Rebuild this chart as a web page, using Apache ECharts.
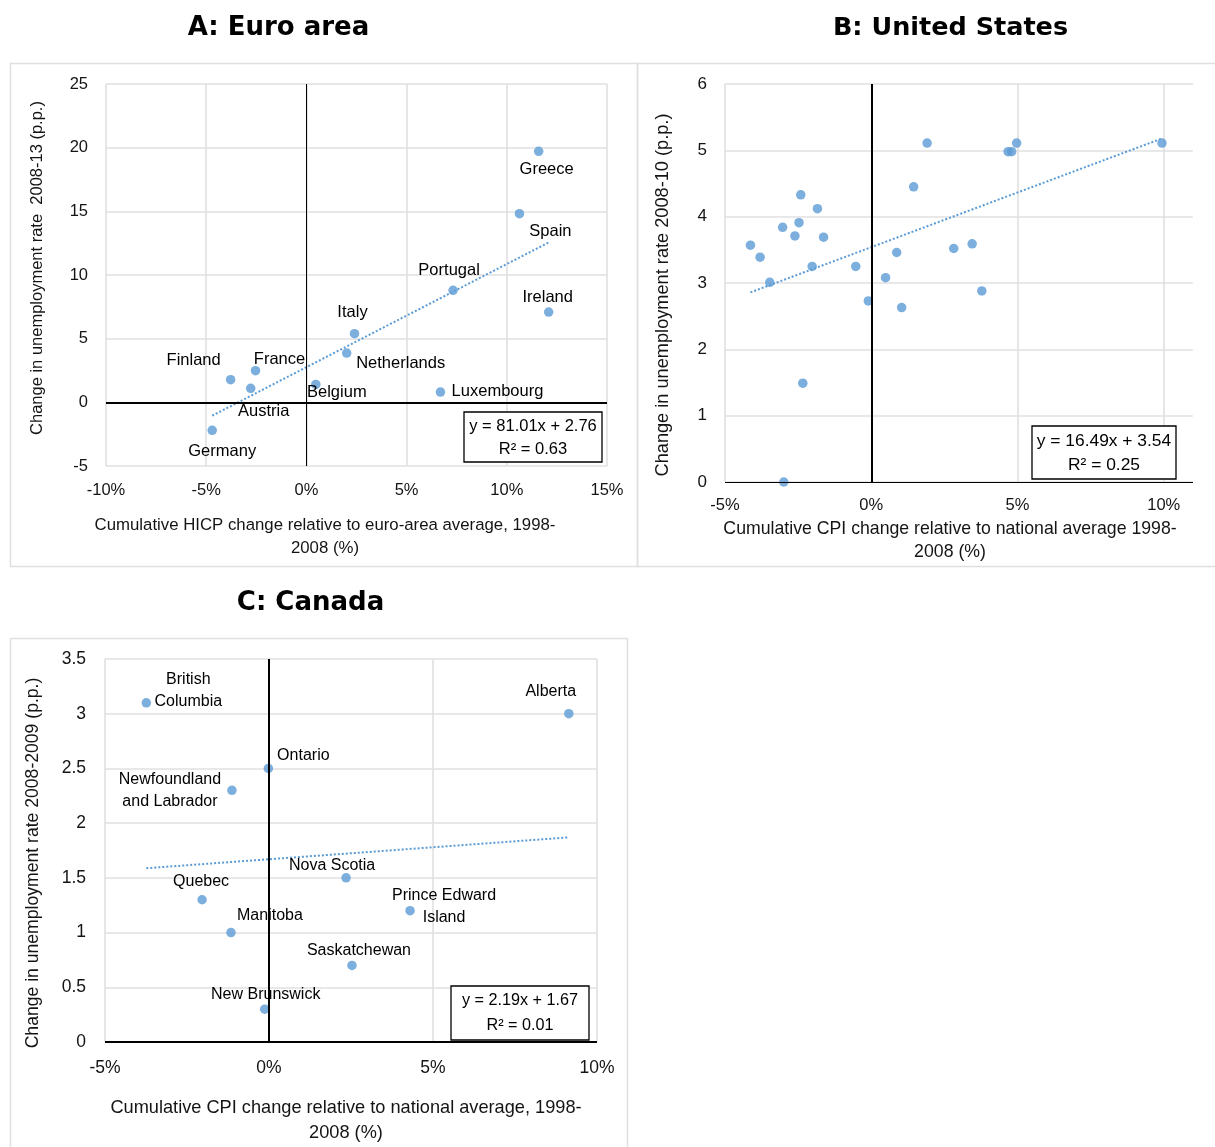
<!DOCTYPE html>
<html>
<head>
<meta charset="utf-8">
<script src="https://cdn.jsdelivr.net/npm/echarts@6/dist/echarts.min.js"></script>
<style>
html,body{margin:0;padding:0;background:#fff;}
#c{width:1215px;height:1147px;}
</style>
</head>
<body>
<div id="c"></div>
<script>
// ---------- Data ----------
const euroCountries = ['Greece','Spain','Portugal','Ireland','Italy','Netherlands','Belgium','Luxembourg','France','Finland','Austria','Germany'];
const euroX = [11.59, 10.63, 7.32, 12.09, 2.40, 2.01, 0.47, 6.69, -2.54, -3.78, -2.78, -4.70];
const euroY = [19.71, 14.82, 8.80, 7.09, 5.39, 3.87, 1.41, 0.81, 2.49, 1.78, 1.10, -2.20];
const euroTrend = [81.01, 2.76];
const euroR2 = 0.63;

const usX = [-4.13, -3.80, -3.47, -3.03, -2.61, -2.47, -2.41, -2.34, -2.02, -1.84, -1.63, -2.99, -0.53, -0.10, 0.49, 0.87, 1.04, 1.45, 1.91, 2.82, 3.45, 3.78, 4.68, 4.80, 4.97, 9.94];
const usY = [3.57, 3.39, 3.01, 3.84, 3.71, 3.91, 4.33, 1.49, 3.25, 4.12, 3.69, 0.00, 3.25, 2.73, 3.08, 3.46, 2.63, 4.45, 5.11, 3.52, 3.59, 2.88, 4.98, 4.98, 5.11, 5.11];
const usTrend = [16.49, 3.54];
const usR2 = 0.25;

const caProvinces = ['British\nColumbia','Alberta','Ontario','Newfoundland\nand Labrador','Nova Scotia','Quebec','Prince Edward\nIsland','Manitoba','Saskatchewan','New Brunswick'];
const caX = [-3.74, 9.14, -0.02, -1.13, 2.35, -2.04, 4.30, -1.16, 2.53, -0.13];
const caY = [3.10, 3.00, 2.50, 2.30, 1.50, 1.30, 1.20, 1.00, 0.70, 0.30];
const caTrend = [2.19, 1.67];
const caR2 = 0.01;

const titles = ['A: Euro area', 'B: United States', 'C: Canada'];
const xNames = ['Cumulative HICP change relative to euro-area average, 1998-\n2008 (%)',
                'Cumulative CPI change relative to national average 1998-\n2008 (%)',
                'Cumulative CPI change relative to national average, 1998-\n2008 (%)'];
const yNames = ['Change in unemployment rate  2008-13 (p.p.)',
                'Change in unemployment rate 2008-10 (p.p.)',
                'Change in unemployment rate 2008-2009 (p.p.)'];

// ---------- Label placement (style, not data) ----------
const euroLabelOffsets = [[8,18],[31,18],[-4,-20],[-1,-15],[-2,-21],[54,10],[21,8],[57,-1],[24,-11],[-37,-19],[13,23],[10,21]];
const caLabelOffsets = [[42,-12],[-18,-22],[35,-13],[-62,0],[-14,-12],[-1,-18],[34,-4],[39,-17],[7,-15],[1,-15]];

// ---------- Styling ----------
const FONT = 'Liberation Sans';
const TXT = '#141414';
const BLUE = '#5b9bd5';
const GRID = '#e0e0e0';

const chart = echarts.init(document.getElementById('c'), null, {renderer: 'canvas'});

function trendPts(xs, coef) {
  const lo = Math.min.apply(null, xs), hi = Math.max.apply(null, xs);
  return [[lo, coef[0] * lo / 100 + coef[1]], [hi, coef[0] * hi / 100 + coef[1]]];
}
function fmt2(v) { return v.toFixed(2); }
function eqText(coef, r2) { return 'y = ' + fmt2(coef[0]) + 'x + ' + fmt2(coef[1]) + '\nR\u00b2 = ' + fmt2(r2); }

function xAx(gi, min, max, fs, margin, showMax) {
  return {
    type: 'value', gridIndex: gi, min: min, max: max, interval: 5,
    axisLine: {show: false}, axisTick: {show: false},
    splitLine: {show: true, showMaxLine: showMax, lineStyle: {color: GRID, width: 1.6}},
    axisLabel: {formatter: v => (v % 5 === 0 ? v + '%' : ''), showMaxLabel: showMax,
                fontSize: fs, fontFamily: FONT, color: TXT, margin: margin}
  };
}
function yAx(gi, min, max, interval, fs, margin) {
  return {
    type: 'value', gridIndex: gi, min: min, max: max, interval: interval,
    axisLine: {show: false}, axisTick: {show: false},
    splitLine: {show: true, lineStyle: {color: GRID, width: 1.6}},
    axisLabel: {fontSize: fs, fontFamily: FONT, color: TXT, margin: margin}
  };
}
function zeroLines(vw, hw) {
  return {
    silent: true, symbol: ['none', 'none'], label: {show: false}, animation: false,
    lineStyle: {color: '#000', type: 'solid'},
    emphasis: {disabled: true},
    data: [{xAxis: 0, lineStyle: {width: vw, color: '#000', type: 'solid'}},
           {yAxis: 0, lineStyle: {width: hw, color: '#000', type: 'solid'}}]
  };
}
function trendSeries(i, xs, coef, vw, hw) {
  return {
    type: 'line', xAxisIndex: i, yAxisIndex: i, z: 2, symbol: 'none', silent: true,
    data: trendPts(xs, coef),
    lineStyle: {color: BLUE, width: 2, type: [2, 2]},
    markLine: zeroLines(vw, hw)
  };
}
function scatterSeries(i, names, xs, ys, offsets, fs) {
  return {
    type: 'scatter', xAxisIndex: i, yAxisIndex: i, z: 3, symbolSize: 9.5,
    itemStyle: {color: BLUE},
    data: xs.map((x, k) => {
      const d = {name: names ? names[k] : '', value: [x, ys[k]]};
      if (names) d.label = {offset: offsets[k]};
      return d;
    }),
    label: {show: !!names, position: 'inside', formatter: '{b}', fontSize: fs, fontFamily: FONT,
            color: '#000', opacity: 1, textBorderWidth: 0, textBorderColor: 'transparent', textShadowBlur: 0,
            lineHeight: 22, align: 'center', verticalAlign: 'middle'}
  };
}
function txt(x, y, text, fs, extra) {
  return Object.assign({type: 'text', x: x, y: y, silent: true,
    style: Object.assign({text: text, fontSize: fs, fontFamily: FONT, fill: TXT, align: 'center', verticalAlign: 'middle'}, (extra && extra.style) || {})},
    extra && extra.rotation ? {rotation: extra.rotation} : {});
}
function box(x, y, w, h) {
  return {type: 'rect', silent: true, shape: {x: x, y: y, width: w, height: h},
          style: {fill: '#fff', stroke: '#000', lineWidth: 1.3}, z: 10};
}
function eq(x, y, text, fs, lh) {
  return {type: 'text', x: x, y: y, silent: true, z: 11,
          style: {text: text, fontSize: fs, fontFamily: FONT, fill: '#000', align: 'center', verticalAlign: 'middle', lineHeight: lh}};
}
function frame(x, y, w, h) {
  return {type: 'rect', silent: true, shape: {x: x, y: y, width: w, height: h},
          style: {fill: 'none', stroke: GRID, lineWidth: 1.5}, z: 0};
}
const titleStyle = {fontFamily: 'DejaVu Sans', fontWeight: 'bold', fill: '#000'};

const option = {
  animation: false,
  grid: [
    {left: 106, top: 84, width: 501, height: 382},
    {left: 725, top: 84, width: 468, height: 398},
    {left: 105, top: 659, width: 492, height: 383}
  ],
  xAxis: [
    xAx(0, -10, 15, 16.5, 16, true),
    xAx(1, -5, 11, 16.5, 15, false),
    xAx(2, -5, 10, 17.5, 17, true)
  ],
  yAxis: [
    yAx(0, -5, 25, 5, 16.5, 18),
    yAx(1, 0, 6, 1, 17, 18),
    yAx(2, 0, 3.5, 0.5, 17.5, 19)
  ],
  series: [
    trendSeries(0, euroX, euroTrend, 1, 2),
    scatterSeries(0, euroCountries, euroX, euroY, euroLabelOffsets, 16.5),
    trendSeries(1, usX, usTrend, 2, 1),
    scatterSeries(1, null, usX, usY, null, 16),
    trendSeries(2, caX, caTrend, 2, 2),
    scatterSeries(2, caProvinces, caX, caY, caLabelOffsets, 16)
  ],
  graphic: {elements: [
    frame(10.5, 63.5, 627, 503),
    frame(637.5, 63.5, 590, 503),
    frame(10.5, 638.5, 617, 520),
    {type: 'line', silent: true, z: 1, shape: {x1: 1193.8, y1: 85, x2: 1193.8, y2: 481}, style: {stroke: '#fff', lineWidth: 2}},
    {type: 'text', x: 278.5, y: 28, silent: true, style: Object.assign({text: titles[0], fontSize: 26, align: 'center', verticalAlign: 'middle'}, titleStyle)},
    {type: 'text', x: 950.5, y: 28, silent: true, style: Object.assign({text: titles[1], fontSize: 25.5, align: 'center', verticalAlign: 'middle'}, titleStyle)},
    {type: 'text', x: 310.5, y: 603, silent: true, style: Object.assign({text: titles[2], fontSize: 26, align: 'center', verticalAlign: 'middle'}, titleStyle)},
    txt(325, 537, xNames[0], 16.8, {style: {lineHeight: 23}}),
    txt(950, 540.5, xNames[1], 17.7, {style: {lineHeight: 23}}),
    txt(346, 1120.5, xNames[2], 18.2, {style: {lineHeight: 25}}),
    txt(37, 268, yNames[0], 16.5, {rotation: Math.PI / 2}),
    txt(663, 295, yNames[1], 18.2, {rotation: Math.PI / 2}),
    txt(33, 863, yNames[2], 17.6, {rotation: Math.PI / 2}),
    box(464, 412, 138, 50), eq(533, 437.5, eqText(euroTrend, euroR2), 16.5, 23),
    box(1032, 426, 144, 53), eq(1104, 453, eqText(usTrend, usR2), 17.4, 24),
    box(451, 986, 138, 54), eq(520, 1013.5, eqText(caTrend, caR2), 16.2, 25)
  ]}
};
chart.setOption(option);
</script>
</body>
</html>
